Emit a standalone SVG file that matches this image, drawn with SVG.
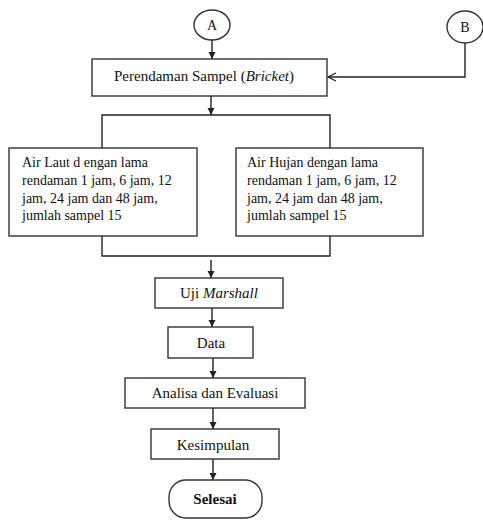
<svg xmlns="http://www.w3.org/2000/svg" width="483" height="520" viewBox="0 0 483 520">
<defs>
<marker id="ah" markerWidth="8" markerHeight="8" refX="7" refY="4" orient="auto" markerUnits="userSpaceOnUse">
<path d="M0,0.5 L7,4 L0,7.5 Z" fill="#222"/>
</marker>
<marker id="oh" markerWidth="10" markerHeight="10" refX="9" refY="5" orient="auto" markerUnits="userSpaceOnUse">
<path d="M1,1 L9,5 L1,9" fill="none" stroke="#222" stroke-width="1.2"/>
</marker>
</defs>
<style>
.box{fill:#fff;stroke:#333;stroke-width:1.4}
.ln{fill:none;stroke:#222;stroke-width:1.4}
text{font-family:"Liberation Serif","Times New Roman",serif;font-size:14px;fill:#111}
.c{text-anchor:middle}
.s{font-size:15px}
</style>
<rect width="483" height="520" fill="#fff"/>
<g id="connectors">
<line class="ln" x1="212" y1="40" x2="212" y2="59" marker-end="url(#ah)"/>
<polyline class="ln" points="465,43 465,77 328,77" marker-end="url(#oh)"/>
<line class="ln" x1="211" y1="96" x2="211" y2="115" marker-end="url(#ah)"/>
<polyline class="ln" points="102,148 102,115 330,115 330,148"/>
<polyline class="ln" points="102,236 102,256 330,256 330,236"/>
<line class="ln" x1="211" y1="260" x2="211" y2="278" marker-end="url(#ah)"/>
<line class="ln" x1="212" y1="308" x2="212" y2="327" marker-end="url(#ah)"/>
<line class="ln" x1="213" y1="358" x2="213" y2="378" marker-end="url(#ah)"/>
<line class="ln" x1="213" y1="408" x2="213" y2="429" marker-end="url(#ah)"/>
<line class="ln" x1="213" y1="459" x2="213" y2="480" marker-end="url(#ah)"/>
</g>
<g id="nodeA">
<ellipse class="box" cx="212" cy="25" rx="18" ry="15"/>
<text class="c" x="212" y="30" font-size="13">A</text>
</g>
<g id="nodeB">
<ellipse class="box" cx="465" cy="27" rx="18" ry="16"/>
<text class="c" x="465" y="32" font-size="13">B</text>
</g>
<g id="perendaman">
<rect class="box" x="92" y="59" width="235" height="37"/>
<text class="c s" x="204" y="81">Perendaman Sampel (<tspan font-style="italic">Bricket</tspan>)</text>
</g>
<g id="airLaut">
<rect class="box" x="9" y="148" width="188" height="88"/>
<text x="22" y="167">Air Laut d engan lama</text>
<text x="22" y="185">rendaman 1 jam, 6 jam, 12</text>
<text x="22" y="203">jam, 24 jam dan 48 jam,</text>
<text x="22" y="220">jumlah sampel 15</text>
</g>
<g id="airHujan">
<rect class="box" x="236" y="148" width="187" height="88"/>
<text x="247" y="167">Air Hujan dengan lama</text>
<text x="247" y="185">rendaman 1 jam, 6 jam, 12</text>
<text x="247" y="203">jam, 24 jam dan 48 jam,</text>
<text x="247" y="220">jumlah sampel 15</text>
</g>
<g id="uji">
<rect class="box" x="155" y="278" width="128" height="30"/>
<text class="c s" x="219" y="298">Uji <tspan font-style="italic">Marshall</tspan></text>
</g>
<g id="data">
<rect class="box" x="168" y="327" width="85" height="31"/>
<text class="c s" x="211" y="348">Data</text>
</g>
<g id="analisa">
<rect class="box" x="125" y="378" width="180" height="30"/>
<text class="c s" x="215" y="398">Analisa dan Evaluasi</text>
</g>
<g id="kesimpulan">
<rect class="box" x="151" y="429" width="128" height="30"/>
<text class="c s" x="213" y="450">Kesimpulan</text>
</g>
<g id="selesai">
<rect class="box" x="169" y="480" width="93" height="38" rx="17" ry="17"/>
<text class="c s" x="215" y="504" font-weight="bold">Selesai</text>
</g>
</svg>
